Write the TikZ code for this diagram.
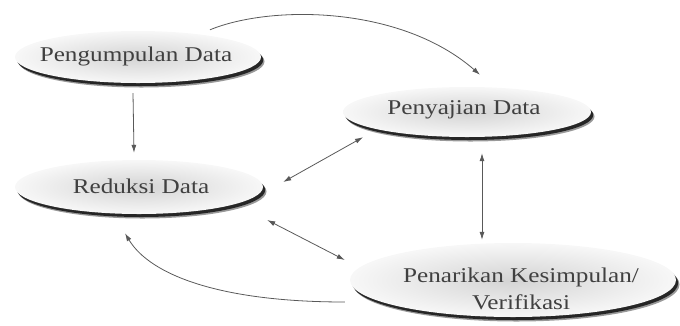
\documentclass[tikz,border=0pt]{standalone}
\usepackage{fontspec}
\usepackage{graphicx}
\setmainfont{Liberation Serif}
\newcommand\widetxt[1]{\scalebox{1.2}[1]{#1}}
\usetikzlibrary{shapes.geometric,arrows.meta,shadows}
\begin{document}
\begin{tikzpicture}[x=1pt,y=-1pt,
  oval/.style={ellipse, inner sep=0pt, draw=none,
    inner color=black!17, outer color=black!3,
    general shadow={shadow xshift=3.5pt, shadow yshift=-4.5pt, fill=black!40},
    general shadow={shadow xshift=2.2pt, shadow yshift=-3pt, fill=black!85}},
  every label/.style={text=black!75, font=\fontsize{21}{27}\selectfont, align=center},
  tip/.tip={Latex[length=8pt,width=5pt]},
  arr/.style={draw=black!65, line width=0.8pt, -tip},
  darr/.style={draw=black!65, line width=0.8pt, tip-tip}
]
\useasboundingbox (0,0) rectangle (680,325);
\node[oval, minimum width=246, minimum height=52, label={[xshift=-2pt,yshift=1pt]center:\widetxt{Pengumpulan Data}}] (e1) at (138,57) {};
\node[oval, minimum width=248, minimum height=50, label={[xshift=-3pt,yshift=2pt]center:\widetxt{Penyajian Data}}] (e2) at (467,112) {};
\node[oval, minimum width=248, minimum height=54, label={[xshift=2pt,yshift=1pt]center:\widetxt{Reduksi Data}}] (e3) at (139,187) {};
\node[oval, minimum width=326, minimum height=74, label={[xshift=8pt,yshift=-9pt]center:\widetxt{Penarikan Kesimpulan/}\\\widetxt{Verifikasi}}] (e4) at (513,280) {};

\draw[arr] ([xshift=-5pt,yshift=-10pt]e1.south) -- ([xshift=-5pt,yshift=7pt]e3.north);
\draw[arr] ([xshift=72pt,yshift=1pt]e1.north) .. controls (270,5) and (400,5) .. ([xshift=13pt,yshift=12pt]e2.north);
\draw[darr] ([xshift=20pt,yshift=5pt]e3.east) -- ([xshift=-104pt,yshift=0pt]e2.south);
\draw[darr] ([xshift=15pt,yshift=-16pt]e2.south) -- ([xshift=-31pt,yshift=3pt]e4.north);
\draw[darr] ([xshift=4pt,yshift=-33pt]e3.east) -- ([xshift=-5pt,yshift=20pt]e4.west);
\draw[arr] ([xshift=-5pt,yshift=-22pt]e4.west) .. controls (220,302) and (150,275) .. ([xshift=-14pt,yshift=-19pt]e3.south);
\end{tikzpicture}
\end{document}
